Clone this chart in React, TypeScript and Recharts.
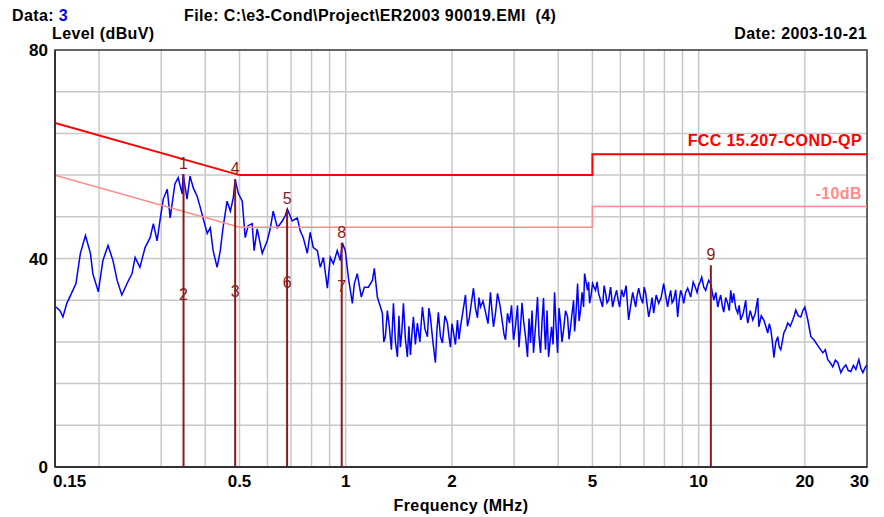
import React from "react";
import {
  LineChart,
  Line,
  XAxis,
  YAxis,
  CartesianGrid,
  ReferenceLine,
  ReferenceArea,
  Scatter,
} from "recharts";

const freqLow = [
  0.151, 0.155, 0.158, 0.162, 0.167, 0.172, 0.177, 0.183, 0.189, 0.192, 0.199, 0.205, 0.212, 0.219, 0.225,
  0.232, 0.24, 0.248, 0.253, 0.261, 0.27, 0.279, 0.285, 0.292, 0.298, 0.304, 0.312, 0.318, 0.328, 0.335,
  0.344, 0.346, 0.355, 0.362, 0.37, 0.379, 0.387, 0.394, 0.405, 0.413, 0.421, 0.432, 0.441, 0.449, 0.461,
  0.471, 0.48, 0.486, 0.496, 0.509, 0.519, 0.529, 0.543, 0.55, 0.561, 0.58, 0.599, 0.611, 0.623, 0.64,
  0.661, 0.674, 0.683, 0.705, 0.729, 0.743, 0.758, 0.778, 0.793, 0.809, 0.831, 0.847, 0.864, 0.887, 0.904,
  0.922, 0.946, 0.965, 0.978, 0.997, 1.017, 1.044, 1.058, 1.078, 1.107, 1.129, 1.159, 1.19, 1.205, 1.229,
];
const levelLow = [
  30.7, 30.0, 28.8, 31.4, 33.3, 35.2, 41.0, 44.4, 41.0, 37.1, 33.6, 39.6, 42.5, 39.6, 35.8,
  33.0, 35.2, 37.1, 40.2, 38.3, 42.1, 44.0, 46.7, 43.4, 47.6, 51.4, 53.3, 47.8, 54.3, 55.5,
  52.4, 56.2, 51.4, 55.8, 53.5, 52.0, 49.8, 47.8, 44.8, 45.9, 41.5, 38.3, 41.5, 45.9, 51.0,
  49.1, 51.6, 55.2, 52.5, 51.0, 44.0, 46.3, 46.7, 41.5, 45.7, 41.0, 43.4, 45.7, 49.1, 45.9,
  47.2, 48.2, 49.5, 47.2, 47.8, 45.3, 44.0, 41.0, 45.0, 42.1, 41.5, 38.3, 40.2, 34.3, 40.2,
  39.0, 41.5, 39.6, 43.0, 41.5, 36.4, 31.4, 35.2, 37.1, 32.6, 34.5, 34.5, 35.8, 38.1, 32.6,
];

const freqMid = [
  1.27, 1.282, 1.295, 1.312, 1.329, 1.347, 1.365, 1.383, 1.401, 1.415,
  1.428, 1.442, 1.457, 1.476, 1.495, 1.51, 1.525, 1.54, 1.555, 1.575,
  1.596, 1.622, 1.649, 1.676, 1.704, 1.72, 1.737, 1.766, 1.795, 1.812,
  1.83, 1.855, 1.879, 1.91, 1.942, 1.961, 1.98, 2.0, 2.019, 2.046,
  2.073, 2.094, 2.114, 2.15, 2.184, 2.213, 2.242, 2.27, 2.301, 2.331,
  2.362, 2.385, 2.409, 2.449, 2.489, 2.53, 2.571, 2.596, 2.622, 2.657,
  2.692, 2.736, 2.781, 2.808, 2.836, 2.873, 2.911, 2.95, 2.988, 3.027,
  3.067, 3.097, 3.128, 3.159, 3.19, 3.232, 3.274, 3.306, 3.339, 3.372,
  3.405, 3.45, 3.495, 3.53, 3.564, 3.6, 3.635, 3.66, 3.683, 3.72,
  3.756, 3.793, 3.83, 3.868, 3.906, 3.945, 3.983, 4.022, 4.062, 4.1,
  4.142, 4.197, 4.252, 4.294, 4.336, 4.379, 4.422, 4.451, 4.48, 4.51,
  4.539, 4.584, 4.629, 4.675, 4.721, 4.751,
];
const levelMid = [
  29.5, 24.0, 25.0, 30.0, 26.9, 22.5, 31.4, 24.0, 21.1, 29.0,
  23.0, 26.0, 31.4, 24.5, 21.1, 27.0, 21.5, 25.5, 28.8, 23.5,
  27.6, 24.0, 30.7, 26.5, 25.0, 30.5, 28.8, 24.0, 20.0, 26.0,
  29.7, 25.0, 23.8, 29.0, 27.6, 25.0, 23.0, 27.5, 25.9, 23.5,
  28.2, 24.5, 26.9, 30.0, 33.0, 27.0, 28.8, 31.5, 34.3, 30.5,
  28.6, 32.5, 30.7, 31.8, 29.7, 27.5, 33.5, 30.0, 26.9, 29.5,
  33.3, 31.0, 27.6, 25.5, 24.4, 29.5, 27.6, 31.0, 24.4, 27.0,
  31.0, 23.0, 26.9, 31.5, 28.2, 25.0, 21.1, 28.5, 23.8, 30.0,
  21.9, 27.0, 32.6, 25.0, 21.9, 28.0, 32.4, 26.0, 22.5, 30.0,
  21.1, 24.0, 26.9, 23.5, 33.5, 27.0, 21.9, 30.5, 27.6, 24.0,
  26.3, 30.0, 28.8, 24.5, 26.9, 29.5, 32.0, 26.0, 28.2, 31.5,
  35.2, 28.0, 30.1, 33.5, 30.7, 37.1,
];

const freqHigh = [
  4.845, 4.877, 4.909, 4.958, 5.006, 5.055, 5.105, 5.155, 5.206, 5.275,
  5.344, 5.397, 5.45, 5.5, 5.558, 5.63, 5.704, 5.78, 5.856, 5.914,
  5.972, 6.05, 6.129, 6.23, 6.333, 6.42, 6.504, 6.57, 6.632, 6.7,
  6.764, 6.85, 6.942, 7.01, 7.08, 7.15, 7.22, 7.313, 7.38, 7.458,
  7.58, 7.704, 7.83, 7.959, 8.06, 8.17, 8.25, 8.332, 8.41, 8.497,
  8.61, 8.722, 8.81, 8.894, 8.98, 9.07, 9.19, 9.31, 9.4, 9.495,
  9.65, 9.81, 9.9, 10.005, 10.1, 10.203, 10.34, 10.473, 10.58, 10.68,
  10.82, 10.93, 11.04, 11.19, 11.33, 11.44, 11.55, 11.66, 11.78, 11.93,
  12.09, 12.21, 12.33, 12.45, 12.57, 12.74, 12.91, 13.03, 13.16, 13.38,
  13.6, 13.69, 13.78, 14.0, 14.24, 14.47, 14.71, 14.81, 15.05, 15.3,
  15.5, 15.7, 15.86, 16.02, 16.18, 16.34, 16.55, 16.76, 16.92, 17.09,
  17.26, 17.43, 17.66, 17.89, 18.18, 18.48, 18.66, 18.85, 19.16, 19.48,
  19.74, 20.0,
];
const levelHigh = [
  33.9, 35.5, 31.4, 33.0, 35.2, 34.5, 33.9, 35.5, 33.3, 32.0,
  30.7, 34.8, 33.3, 31.5, 32.0, 34.5, 30.7, 32.5, 33.9, 32.0,
  30.7, 34.0, 32.6, 34.8, 28.2, 31.0, 33.5, 32.0, 30.7, 33.0,
  34.3, 32.5, 31.4, 34.5, 33.3, 31.0, 28.8, 30.7, 32.5, 29.5,
  33.0, 31.4, 32.5, 35.2, 33.0, 30.7, 32.5, 33.9, 31.5, 32.0,
  34.0, 28.8, 32.0, 33.9, 33.0, 31.4, 33.5, 34.3, 33.5, 32.6,
  35.5, 34.3, 33.5, 34.9, 35.5, 36.4, 34.5, 33.9, 35.0, 35.8,
  35.2, 33.5, 32.0, 33.5, 30.7, 32.0, 33.0, 31.0, 29.7, 32.5,
  31.4, 30.0, 33.9, 31.5, 33.3, 30.5, 29.5, 31.0, 28.2, 29.5,
  32.0, 29.0, 27.6, 30.0, 28.2, 29.5, 32.4, 26.9, 29.0, 28.2,
  27.0, 25.7, 27.5, 26.3, 24.0, 21.0, 24.0, 25.0, 23.0, 22.5,
  24.0, 25.7, 26.5, 27.6, 27.0, 28.2, 29.0, 30.1, 29.0, 28.8,
  30.0, 30.7,
];

const freqTop = [
  20.39, 20.8, 21.21, 21.91, 22.49, 22.85, 23.23, 23.6, 24.0, 24.4, 24.8, 25.3,
  25.7, 26.13, 26.55, 27.0, 27.45, 27.9, 28.45, 28.8, 29.21, 29.6, 30.0,
];
const levelTop = [
  28.2, 25.0, 24.4, 23.0, 21.9, 22.5, 20.6, 20.0, 19.2, 20.5, 20.0, 18.1,
  19.0, 19.6, 18.5, 18.3, 19.5, 18.7, 20.6, 19.0, 18.1, 19.0, 19.6,
];

// FCC 15.207 conducted QP limit and the -10dB line
const limitFreq = [0.15, 0.5, 5, 5, 30];
const limitQP = [66, 56, 56, 60, 60];
const limitMinus10 = [56, 46, 46, 50, 50];

// markers: name, frequency, level
const markerName = ["1", "2", "3", "4", "5", "6", "7", "8", "9"];
const markerFreq = [0.347, 0.347, 0.486, 0.486, 0.682, 0.682, 0.974, 0.974, 10.83];
const markerLevel = [56.2, 31.0, 31.6, 55.2, 49.5, 33.3, 32.6, 43.0, 38.7];
const markerLineTop = ["1", "4", "5", "8", "9"];

const xTicks = [0.15, 0.5, 1, 2, 5, 10, 20, 30];
const xGrid = [0.2, 0.3, 0.4, 0.5, 0.6, 0.7, 0.8, 0.9, 1, 2, 3, 4, 5, 6, 7, 8, 9, 10, 20];
const yTicks = [0, 40, 80];
const yGrid = [8, 16, 24, 32, 40, 48, 56, 64, 72];

const traceFreq = [...freqLow, ...freqMid, ...freqHigh, ...freqTop];
const traceLevel = [...levelLow, ...levelMid, ...levelHigh, ...levelTop];
const trace = traceFreq.map((f, i) => ({ f, v: traceLevel[i] }));
const qp = limitFreq.map((f, i) => ({ f, v: limitQP[i] }));
const qp10 = limitFreq.map((f, i) => ({ f, v: limitMinus10[i] }));
const markers = markerName.map((n, i) => ({ n, f: markerFreq[i], v: markerLevel[i] }));

const FONT = '"Liberation Sans", Arial, sans-serif';
const MARK = "#8b1a1a";

const XTick = (props: any) => {
  const { x, y, payload } = props;
  const v = payload.value;
  const anchor = v === 0.15 ? "start" : v === 30 ? "end" : "middle";
  const dx = v === 0.15 ? -2 : v === 30 ? 2 : 0;
  return (
    <text x={x + dx} y={y + 20} textAnchor={anchor} fontFamily={FONT} fontWeight="bold" fontSize={17} fill="#000">
      {String(v)}
    </text>
  );
};

const YTick = (props: any) => {
  const { x, y, payload } = props;
  return (
    <text x={x} y={y + 6} textAnchor="end" fontFamily={FONT} fontWeight="bold" fontSize={17} fill="#000">
      {payload.value}
    </text>
  );
};

const MarkerLabel = (props: any) => {
  const { cx, cy, payload } = props;
  return (
    <text x={cx} y={cy - 5} textAnchor="middle" fontFamily={FONT} fontSize={16} fill={MARK}>
      {payload.n}
    </text>
  );
};

const txt = {
  fontFamily: FONT,
  fontWeight: "bold" as const,
  fontSize: 16,
  letterSpacing: 0.4,
  whiteSpace: "pre" as const,
};

export default function App() {
  return (
    <div style={{ position: "absolute", left: 0, top: 0, width: 884, height: 517, background: "#fff" }}>
      <LineChart width={884} height={517} margin={{ top: 50, right: 17, left: 5, bottom: 20 }}>
        <CartesianGrid stroke="#c8c8c8" strokeWidth={1.5} horizontalValues={yGrid} verticalValues={xGrid} />
        <XAxis
          dataKey="f"
          type="number"
          scale="log"
          domain={[0.15, 30]}
          allowDataOverflow
          ticks={xTicks}
          interval={0}
          height={30}
          tickSize={0}
          tickMargin={0}
          tick={<XTick />}
          axisLine={{ stroke: "#333", strokeWidth: 2 }}
        />
        <YAxis
          type="number"
          domain={[0, 80]}
          allowDataOverflow
          ticks={yTicks}
          interval={0}
          width={50}
          tickSize={0}
          tickMargin={7}
          tick={<YTick />}
          axisLine={{ stroke: "#333", strokeWidth: 2 }}
        />
        <ReferenceArea x1={0.15} x2={30} y1={0} y2={80} fill="none" stroke="#333" strokeWidth={1.5} />
        <Line data={trace} dataKey="v" stroke="#0000ff" strokeWidth={1.5} dot={false} isAnimationActive={false} />
        <Line data={qp10} dataKey="v" stroke="#ff8c8c" strokeWidth={1.5} dot={false} isAnimationActive={false} />
        <Line data={qp} dataKey="v" stroke="#ff0000" strokeWidth={2} dot={false} isAnimationActive={false} />
        {markers
          .filter((m) => markerLineTop.includes(m.n))
          .map((m) => (
            <ReferenceLine
              key={m.n}
              segment={[
                { x: m.f, y: 0 },
                { x: m.f, y: m.v },
              ]}
              stroke={MARK}
              strokeWidth={2}
            />
          ))}
        <Scatter data={markers} dataKey="v" shape={<MarkerLabel />} isAnimationActive={false} />
      </LineChart>
      <svg width={884} height={517} style={{ position: "absolute", left: 0, top: 0, pointerEvents: "none" }}>
        <text x={12} y={21} style={txt} fill="#000">
          Data: <tspan fill="#0000ff">3</tspan>
        </text>
        <text x={184} y={21} style={txt} fill="#000">
          {"File: C:\\e3-Cond\\Project\\ER2003 90019.EMI  (4)"}
        </text>
        <text x={52} y={39} style={txt} fill="#000">
          Level (dBuV)
        </text>
        <text x={867} y={39} textAnchor="end" style={txt} fill="#000">
          Date: 2003-10-21
        </text>
        <text x={461} y={511} textAnchor="middle" style={txt} fill="#000">
          Frequency (MHz)
        </text>
        <text x={862} y={146} textAnchor="end" style={txt} fill="#ff0000">
          FCC 15.207-COND-QP
        </text>
        <text x={862} y={199} textAnchor="end" style={txt} fill="#ff8c8c">
          -10dB
        </text>
      </svg>
    </div>
  );
}
